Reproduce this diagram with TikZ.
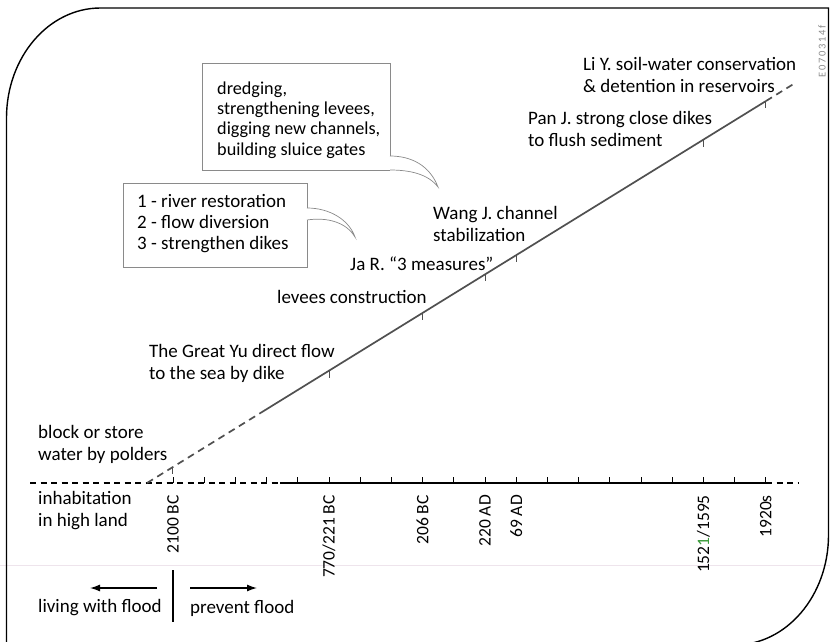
\documentclass[tikz,border=0pt]{standalone}
\usepackage{fontspec}
\setmainfont{Carlito}
\newfontfamily\codefont[LetterSpace=16]{Carlito}
\usetikzlibrary{arrows.meta,calc}
\definecolor{trendgray}{HTML}{505050}
\definecolor{boxgray}{HTML}{8A8A8A}
\definecolor{codegray}{HTML}{8C8C8C}
\definecolor{inkgreen}{HTML}{3A9A3A}
\definecolor{paperline}{HTML}{EEE4EC}
\begin{document}
\begin{tikzpicture}[x=1pt,y=-1pt,
  lbl/.style={font=\fontsize{19}{22}\selectfont, align=left, inner sep=0pt, anchor=west},
  datelbl/.style={font=\fontsize{17.5}{20}\selectfont, rotate=90, anchor=east, inner sep=0pt},
  boxtxt/.style={font=\fontsize{19}{21}\selectfont, align=left, inner sep=0pt, anchor=west},
  boxline/.style={draw=boxgray, line width=0.7pt},
  frameline/.style={draw=black, line width=1.4pt},
  axisline/.style={draw=black, line width=1.3pt},
  trendline/.style={draw=trendgray, line width=1.7pt},
  dashpat/.style={dash pattern=on 6pt off 4.5pt},
  tickmark/.style={draw=black, line width=1pt},
  trendtick/.style={draw=trendgray, line width=1pt},
  legendarrow/.style={draw=black, line width=1.3pt, -{Latex[length=10pt,width=7pt]}},
]
\useasboundingbox (0,0) rectangle (830,642);

% faint ruling across the lower part
\draw[paperline, line width=0.8pt] (0,565) -- (830,565);

% outer frame with two rounded corners
\draw[frameline] (6.5,650) -- (6.5,118)
  arc[start angle=180, end angle=270, x radius=94, y radius=110]
  -- (828.5,8) -- (828.5,535)
  arc[start angle=0, end angle=90, x radius=94, y radius=110]
  -- (6.5,650);

% time axis
\coordinate (h0) at (30,483);
\coordinate (hs) at (280,483);
\coordinate (he) at (766,483);
\coordinate (hx) at (798,483);
\draw[axisline, dashpat] (h0) -- (hs);
\draw[axisline] (hs) -- (he);
\draw[axisline, dashpat] (he) -- (hx);
\foreach \i in {0,...,19} {
  \draw[tickmark] (173+31.2*\i,483) -- ++(0,-6);
}

% rising trend line
\coordinate (d0) at (147,483);
\coordinate (de) at (766,101);
\coordinate (ds) at ($(d0)!0.1826!(de)$);
\coordinate (dx) at ($(d0)!1.045!(de)$);
\draw[trendline, dash pattern=on 7pt off 5pt] (d0) -- (ds);
\draw[trendline] (ds) -- (de);
\draw[trendline, dash pattern=on 7pt off 5pt] (de) -- (dx);
\foreach \i in {0,5,8,10,11,17,19} {
  \pgfmathsetmacro{\t}{(173+31.2*\i-147)/619}
  \draw[trendtick] ($(d0)!\t!(de)$) -- ++(0,7);
}

% dates along the axis
\node[datelbl] (y2100) at (173,495) {2100 BC};
\node[datelbl] (y770)  at (329,495) {770/221 BC};
\node[datelbl] (y206)  at (422.6,495) {206 BC};
\node[datelbl] (y220)  at (485,495) {220 AD};
\node[datelbl] (y69)   at (516.2,495) {69 AD};
\node[datelbl] (y1521) at (703.4,495) {152{\color{inkgreen}1}/1595};
\node[datelbl] (y1920) at (765.8,495) {1920s};

% events along the trend line
\node[lbl] (liy)   at (583,75)  {Li Y. soil-water conservation\\\& detention in reservoirs};
\node[lbl] (panj)  at (528,129) {Pan J. strong close dikes\\to flush sediment};
\node[lbl] (wangj) at (433,224) {Wang J. channel\\stabilization};
\node[lbl] (jar)   at (350,264) {Ja R. “3 measures”};
\node[lbl] (lev)   at (277,297) {levees construction};
\node[lbl] (yu)    at (149,363) {The Great Yu direct flow\\to the sea by dike};
\node[lbl] (block) at (38,444)  {block or store\\water by polders};
\node[lbl] (inhab) at (38,511)  {inhabitation\\in high land};

% callout for Wang J.
\coordinate (b1a) at (390,156);
\coordinate (b1b) at (390,170);
\coordinate (b1tip) at (438,187);
\draw[boxline] (b1a) -- (390,63) -- (202,63) -- (202,170) -- (b1b);
\draw[boxline] (b1a) .. controls (412,156) and (430,166) .. (b1tip)
  .. controls (428,174) and (410,170) .. (b1b);
\node[boxtxt, font=\fontsize{18.2}{20.3}\selectfont] (b1t) at (217,120) {dredging,\\strengthening levees,\\digging new channels,\\building sluice gates};

% callout for Ja R.
\coordinate (b2a) at (307,208);
\coordinate (b2b) at (307,220);
\coordinate (b2tip) at (355,237);
\draw[boxline] (b2a) -- (307,183) -- (123,183) -- (123,267) -- (307,267) -- (b2b);
\draw[boxline] (b2a) .. controls (330,208) and (349,220) .. (b2tip)
  .. controls (346,222) and (327,217) .. (b2b);
\node[boxtxt] (b2t) at (137,224) {1 - river restoration\\2 - flow diversion\\3 - strengthen dikes};

% legend below the axis
\node[lbl] (livw) at (38,608)  {living with flood};
\node[lbl] (prev) at (190,608) {prevent flood};
\coordinate (dv1) at (173,570);
\coordinate (dv2) at (173,622);
\draw[axisline] (dv1) -- (dv2);
\coordinate (la1) at (157,588);
\coordinate (la2) at (90,588);
\coordinate (ra1) at (190,588);
\coordinate (ra2) at (257,588);
\draw[legendarrow] (la1) -- (la2);
\draw[legendarrow] (ra1) -- (ra2);

% figure code
\node[font=\codefont\fontsize{10.5}{10.5}\selectfont, text=codegray, rotate=90, inner sep=0pt] (code) at (822,51) {E070314f};
\end{tikzpicture}
\end{document}
